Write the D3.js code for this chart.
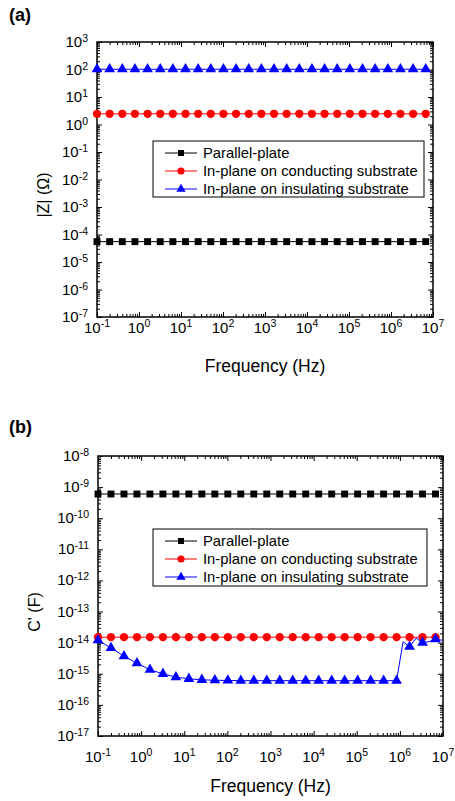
<!DOCTYPE html>
<meta charset="utf-8">
<style>
  body { margin: 0; background: #fff; }
  svg { font-family: "Liberation Sans", Arial, sans-serif; }
  .frame { fill: none; stroke: #000; stroke-width: 1.5; }
  .tick line { stroke: #000; stroke-width: 1; }
  .domain { display: none; }
  .series { fill: none; stroke-width: 1; }
</style>
<body>
<svg width="455" height="801"></svg>
<script src="https://cdn.jsdelivr.net/npm/d3@7"></script>
<script>
// frequencies of the measured points (Hz)
var freq = [0.1, 0.2, 0.4, 0.8, 1.6, 3.2, 6.4, 12.8, 25.6, 51.2, 102.4, 204.8, 409.6, 819.2,
  1638.4, 3276.8, 6553.6, 13107.2, 26214.4, 52428.8, 104857.6, 209715.2, 419430.4, 838860.8,
  1677721.6, 3355443.2, 6710886.4];

// (a) |Z| in ohm
var zParallel = [5.5e-5, 5.5e-5, 5.5e-5, 5.5e-5, 5.5e-5, 5.5e-5, 5.5e-5, 5.5e-5, 5.5e-5, 5.5e-5,
  5.5e-5, 5.5e-5, 5.5e-5, 5.5e-5, 5.5e-5, 5.5e-5, 5.5e-5, 5.5e-5, 5.5e-5, 5.5e-5,
  5.5e-5, 5.5e-5, 5.5e-5, 5.5e-5, 5.5e-5, 5.5e-5, 5.5e-5];
var zConducting = [2.45, 2.45, 2.45, 2.45, 2.45, 2.45, 2.45, 2.45, 2.45, 2.45,
  2.45, 2.45, 2.45, 2.45, 2.45, 2.45, 2.45, 2.45, 2.45, 2.45,
  2.45, 2.45, 2.45, 2.45, 2.45, 2.45, 2.45];
var zInsulating = [102, 102, 102, 102, 102, 102, 102, 102, 102, 102,
  102, 102, 102, 102, 102, 102, 102, 102, 102, 102,
  102, 102, 102, 102, 102, 102, 102];

// (b) C' in farad
var cParallel = [6.0e-10, 6.0e-10, 6.0e-10, 6.0e-10, 6.0e-10, 6.0e-10, 6.0e-10, 6.0e-10, 6.0e-10, 6.0e-10,
  6.0e-10, 6.0e-10, 6.0e-10, 6.0e-10, 6.0e-10, 6.0e-10, 6.0e-10, 6.0e-10, 6.0e-10, 6.0e-10,
  6.0e-10, 6.0e-10, 6.0e-10, 6.0e-10, 6.0e-10, 6.0e-10, 6.0e-10];
var cConducting = [1.5e-14, 1.5e-14, 1.5e-14, 1.5e-14, 1.5e-14, 1.5e-14, 1.5e-14, 1.5e-14, 1.5e-14, 1.5e-14,
  1.5e-14, 1.5e-14, 1.5e-14, 1.5e-14, 1.5e-14, 1.5e-14, 1.5e-14, 1.5e-14, 1.5e-14, 1.5e-14,
  1.5e-14, 1.5e-14, 1.5e-14, 1.5e-14, 1.5e-14, 1.5e-14, 1.5e-14];
var cInsulating = [1.2e-14, 6.8e-15, 3.7e-15, 2.2e-15, 1.35e-15, 1.0e-15, 7.8e-16, 6.9e-16, 6.4e-16, 6.2e-16,
  6.1e-16, 6.0e-16, 6.0e-16, 6.0e-16, 6.0e-16, 6.0e-16, 6.0e-16, 6.0e-16, 6.0e-16, 6.0e-16,
  6.0e-16, 6.0e-16, 6.0e-16, 6.0e-16, 7.4e-15, 1.0e-14, 1.3e-14];
// extra points of the insulating curve that carry no marker
var cInsExtraFreq = [1186328, 2372656, 4745312, 9490625];
var cInsExtraVal = [1.07e-14, 1.4e-14, 1.08e-14, 1.2e-14];

var legendNames = ["Parallel-plate", "In-plane on conducting substrate", "In-plane on insulating substrate"];
var colors = ["#000000", "#ff0000", "#0000ff"];
var shapes = [d3.symbolSquare, d3.symbolCircle, d3.symbolTriangle];
var shapeSizes = [48, 54, 50];

var xExps = [-1, 0, 1, 2, 3, 4, 5, 6, 7];

var svg = d3.select("svg");

function pairs(xs, ys) {
  return xs.map(function(f, i) { return [f, ys[i]]; });
}

function minorTicks(exps) {
  var out = [];
  exps.slice(0, -1).forEach(function(e) {
    for (var m = 2; m < 10; m++) out.push(m * Math.pow(10, e));
  });
  return out;
}

function expLabel(g, x, y, anchor, exp, supDy) {
  var t = g.append("text")
      .attr("x", x)
      .attr("y", y)
      .attr("text-anchor", anchor)
      .attr("font-size", 15);
  t.append("tspan").text("10");
  t.append("tspan").attr("font-size", 10.5).attr("dy", supDy).text(exp);
}

function drawPanel(p) {
  var x = d3.scaleLog().domain([0.1, 1e7]).range([p.left, p.right]);
  var y = d3.scaleLog().domain([Math.pow(10, p.yExps[0]), Math.pow(10, p.yExps[p.yExps.length - 1])])
      .range([p.bottom, p.top]);
  var w = p.right - p.left, h = p.bottom - p.top;
  var xMaj = xExps.map(function(e) { return Math.pow(10, e); });
  var yMaj = p.yExps.map(function(e) { return Math.pow(10, e); });
  var xMin = minorTicks(xExps), yMin = minorTicks(p.yExps);

  var g = svg.append("g");

  // ticks on all four sides, pointing inward
  [[xMaj, 5], [xMin, 3]].forEach(function(t) {
    g.append("g").attr("transform", "translate(0," + p.bottom + ")")
      .call(d3.axisBottom(x).tickValues(t[0]).tickSizeInner(-t[1]).tickSizeOuter(0).tickFormat(""));
    g.append("g").attr("transform", "translate(0," + p.top + ")")
      .call(d3.axisTop(x).tickValues(t[0]).tickSizeInner(-t[1]).tickSizeOuter(0).tickFormat(""));
  });
  [[yMaj, 5], [yMin, 3]].forEach(function(t) {
    g.append("g").attr("transform", "translate(" + p.left + ",0)")
      .call(d3.axisLeft(y).tickValues(t[0]).tickSizeInner(-t[1]).tickSizeOuter(0).tickFormat(""));
    g.append("g").attr("transform", "translate(" + p.right + ",0)")
      .call(d3.axisRight(y).tickValues(t[0]).tickSizeInner(-t[1]).tickSizeOuter(0).tickFormat(""));
  });

  g.append("rect").attr("class", "frame")
      .attr("x", p.left).attr("y", p.top).attr("width", w).attr("height", h);

  // tick labels
  xExps.forEach(function(e) {
    expLabel(g, x(Math.pow(10, e)), p.xLabelY, "middle", String(e), -6);
  });
  p.yExps.forEach(function(e) {
    expLabel(g, p.left - 9, y(Math.pow(10, e)) + 5, "end", String(e), -5);
  });

  // series
  p.series.forEach(function(s, i) {
    g.append("path").attr("class", "series")
        .attr("stroke", colors[i])
        .attr("d", d3.line().x(function(d) { return x(d[0]); }).y(function(d) { return y(d[1]); })(s.line));
    g.selectAll(null).data(s.marks).enter().append("path")
        .attr("transform", function(d) { return "translate(" + x(d[0]) + "," + y(d[1]) + ")"; })
        .attr("d", d3.symbol().type(shapes[i]).size(shapeSizes[i]))
        .attr("fill", colors[i]);
  });

  // legend
  var lg = g.append("g");
  lg.append("rect")
      .attr("x", p.legend.x).attr("y", p.legend.y)
      .attr("width", p.legend.w).attr("height", p.legend.h)
      .attr("fill", "#fff").attr("stroke", "#000").attr("stroke-width", 1);
  legendNames.forEach(function(name, i) {
    var ly = p.legend.y + 12 + i * 18;
    var lx = p.legend.x;
    lg.append("line").attr("x1", lx + 12).attr("x2", lx + 44).attr("y1", ly).attr("y2", ly)
        .attr("stroke", colors[i]).attr("stroke-width", 1);
    lg.append("path").attr("transform", "translate(" + (lx + 28) + "," + ly + ")")
        .attr("d", d3.symbol().type(shapes[i]).size(shapeSizes[i] * 0.75))
        .attr("fill", colors[i]);
    lg.append("text").attr("x", lx + 50).attr("y", ly + 5)
        .attr("font-size", 14.8).text(name);
  });

  // axis titles
  g.append("text").attr("x", (p.left + p.right) / 2).attr("y", p.xTitleY)
      .attr("text-anchor", "middle").attr("font-size", 17.5).text("Frequency (Hz)");
  g.append("text")
      .attr("transform", "translate(" + p.yTitleX + "," + p.yTitleY + ") rotate(-90)")
      .attr("text-anchor", "middle").attr("font-size", 16).text(p.yTitle);
  g.append("text").attr("x", 9).attr("y", p.tagY)
      .attr("font-size", 18).attr("font-weight", "bold").text(p.tag);
}

var insLineB = pairs(freq, cInsulating).concat(pairs(cInsExtraFreq, cInsExtraVal))
    .sort(function(a, b) { return a[0] - b[0]; });

drawPanel({
  left: 97, right: 433, top: 42, bottom: 317,
  yExps: [-7, -6, -5, -4, -3, -2, -1, 0, 1, 2, 3],
  xLabelY: 333, xTitleY: 372,
  yTitle: "|Z| (\u03a9)", yTitleX: 49, yTitleY: 195,
  tag: "(a)", tagY: 21,
  legend: {x: 153, y: 141, w: 271, h: 56},
  series: [
    {line: pairs(freq, zParallel), marks: pairs(freq, zParallel)},
    {line: pairs(freq, zConducting), marks: pairs(freq, zConducting)},
    {line: pairs(freq, zInsulating), marks: pairs(freq, zInsulating)}
  ]
});

drawPanel({
  left: 98, right: 443, top: 456, bottom: 736,
  yExps: [-17, -16, -15, -14, -13, -12, -11, -10, -9, -8],
  xLabelY: 762, xTitleY: 792,
  yTitle: "C' (F)", yTitleX: 40, yTitleY: 612,
  tag: "(b)", tagY: 433,
  legend: {x: 153, y: 529, w: 274, h: 57},
  series: [
    {line: pairs(freq, cParallel), marks: pairs(freq, cParallel)},
    {line: pairs(freq, cConducting), marks: pairs(freq, cConducting)},
    {line: insLineB, marks: pairs(freq, cInsulating)}
  ]
});
</script>
</body>
